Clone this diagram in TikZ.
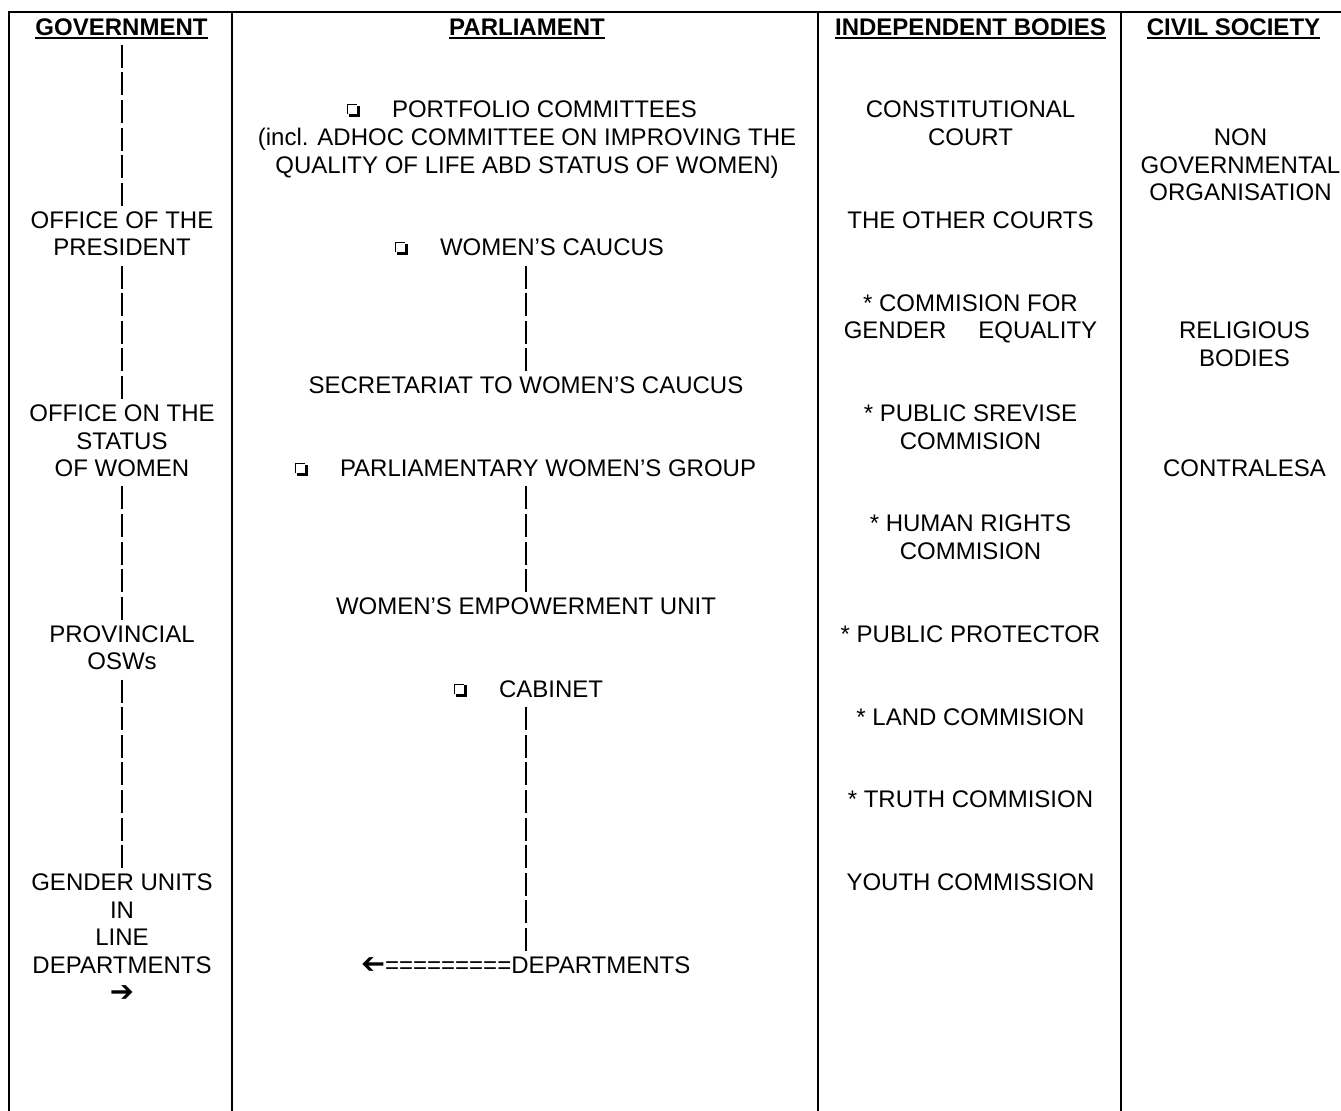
\documentclass[tikz,border=0pt]{standalone}
\usepackage{fontspec}
\usepackage{graphicx}
\setmainfont{Liberation Sans}
\newfontfamily\dejavu{DejaVu Sans}
\newcommand\bodyfont{\fontsize{12}{13.8}\selectfont\lineskiplimit=-100pt\relax}
\newcommand\mystrut{\rule[-2.6pt]{0pt}{13.8pt}}
\newcommand\bulbox{\raisebox{0.5pt}{\setlength\unitlength{1pt}\begin{picture}(6.5,6.5)
 \put(0,1.4){\rule{0.7pt}{5.1pt}}
 \put(0,5.8){\rule{5.1pt}{0.7pt}}
 \put(0.8,0){\rule{5.7pt}{1.5pt}}
 \put(5,0){\rule{1.5pt}{5.6pt}}
\end{picture}}}
\newcommand\rarr{\scalebox{1.2}{\dejavu\bfseries ➔}}
\newcommand\larr{\reflectbox{\scalebox{1.2}{\dejavu\bfseries ➔}}}
\begin{document}
\begin{tikzpicture}[x=0.5pt,y=-0.5pt,
  txt/.style={inner sep=0pt,outer sep=0pt,align=center,anchor=north,font=\bodyfont},
  btxt/.style={txt,anchor=north west,align=left},
  hdr/.style={txt,font=\bodyfont\bfseries},
  bars/.style={line width=0.9pt,dash pattern=on 11.5pt off 2.3pt,dash phase=11.6pt},
  tablerule/.style={line width=1pt},
  uline/.style={line width=1pt}]
\useasboundingbox (0,0) rectangle (1341,1111);
% table rules
\draw[tablerule] (9,1111) -- (9,12) -- (1341,12);
\draw[tablerule] (232,12) -- (232,1111);
\draw[tablerule] (818,12) -- (818,1111);
\draw[tablerule] (1121,12) -- (1121,1111);
% headers
\node[hdr] (gh) at (121.5,12.8) {\mystrut GOVERNMENT};
\node[hdr] (ph) at (527,12.8) {\mystrut PARLIAMENT};
\node[hdr] (ih) at (970.5,12.8) {\mystrut INDEPENDENT BODIES};
\node[hdr] (ch) at (1233.5,12.8) {\mystrut CIVIL SOCIETY};
\foreach \h in {gh,ph,ih,ch}
  \draw[uline] ([yshift=1.2pt]\h.south west) -- ([yshift=1.2pt]\h.south east);
% government
\node[txt] (ofp) at (122,{12.8+27.6*7}) {\mystrut OFFICE OF THE\\PRESIDENT\mystrut};
\node[txt] (osw) at (122,{12.8+27.6*14}) {\mystrut OFFICE ON THE\\STATUS\\OF WOMEN\mystrut};
\node[txt] (pos) at (122,{12.8+27.6*22}) {\mystrut PROVINCIAL\\OSWs\mystrut};
\node[txt] (gul) at (122,{12.8+27.6*31}) {\mystrut GENDER UNITS\\IN\\LINE\\DEPARTMENTS\\\rarr\mystrut};
\draw[bars] (ofp.north |- gh.south) -- (ofp.north);
\draw[bars] (ofp.south) -- (osw.north);
\draw[bars] (osw.south) -- (pos.north);
\draw[bars] (pos.south) -- (gul.north);
% parliament
\node[txt] (pc) at (527,{12.8+27.6*3}) {\mystrut\bulbox\hspace{16pt}PORTFOLIO COMMITTEES\rule{5pt}{0pt}\\(incl. ADHOC COMMITTEE ON IMPROVING THE\\QUALITY OF LIFE ABD STATUS OF WOMEN)\mystrut};
\node[btxt] (wc) at (395,{12.8+27.6*8}) {\mystrut\bulbox\hspace{16pt}WOMEN’S CAUCUS};
\node[txt] (sec) at (526,{12.8+27.6*13}) {\mystrut SECRETARIAT TO WOMEN’S CAUCUS};
\node[btxt] (pwg) at (295,{12.8+27.6*16}) {\mystrut\bulbox\hspace{16pt}PARLIAMENTARY WOMEN’S GROUP};
\node[txt] (weu) at (526,{12.8+27.6*21}) {\mystrut WOMEN’S EMPOWERMENT UNIT};
\node[btxt] (cab) at (454,{12.8+27.6*24}) {\mystrut\bulbox\hspace{16pt}CABINET};
\node[btxt] (dep) at (361,{12.8+27.6*34}) {\mystrut\larr=========DEPARTMENTS};
\draw[bars] (sec.north |- wc.south) -- (sec.north);
\draw[bars] (weu.north |- pwg.south) -- (weu.north);
\draw[bars] (weu.north |- cab.south) -- (weu.north |- dep.north);
% independent bodies
\node[txt] (cc)  at (970.5,{12.8+27.6*3})  {\mystrut CONSTITUTIONAL\\COURT\mystrut};
\node[txt] (toc) at (970.5,{12.8+27.6*7})  {\mystrut THE OTHER COURTS};
\node[txt] (cge) at (970.5,{12.8+27.6*10}) {\mystrut * COMMISION FOR\\GENDER\hspace{16pt}EQUALITY\mystrut};
\node[txt] (psc) at (970.5,{12.8+27.6*14}) {\mystrut * PUBLIC SREVISE\\COMMISION\mystrut};
\node[txt] (hrc) at (970.5,{12.8+27.6*18}) {\mystrut * HUMAN RIGHTS\\COMMISION\mystrut};
\node[txt] (pp)  at (970.5,{12.8+27.6*22}) {\mystrut * PUBLIC PROTECTOR};
\node[txt] (lc)  at (970.5,{12.8+27.6*25}) {\mystrut * LAND COMMISION};
\node[txt] (tc)  at (970.5,{12.8+27.6*28}) {\mystrut * TRUTH COMMISION};
\node[txt] (yc)  at (970.5,{12.8+27.6*31}) {\mystrut YOUTH COMMISSION};
% civil society
\node[txt] (ngo) at (1240.5,{12.8+27.6*4})  {\mystrut NON\\GOVERNMENTAL\\ORGANISATION\mystrut};
\node[txt] (rb)  at (1244.5,{12.8+27.6*11}) {\mystrut RELIGIOUS\\BODIES\mystrut};
\node[txt] (con) at (1244.5,{12.8+27.6*16}) {\mystrut CONTRALESA};
\end{tikzpicture}
\end{document}
